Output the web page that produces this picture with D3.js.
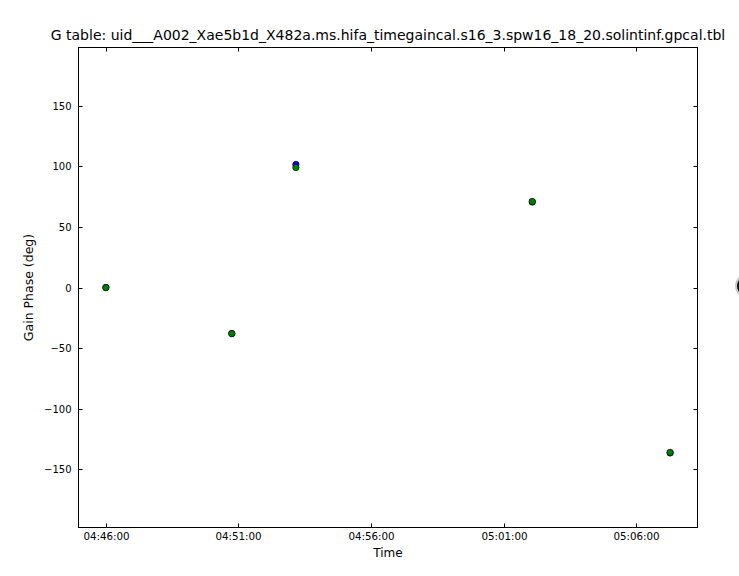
<!DOCTYPE html>
<html><head><meta charset="utf-8">
<script src="https://cdn.jsdelivr.net/npm/d3@7/dist/d3.min.js"></script>
<style>body{margin:0;background:#fff}svg{display:block;font-family:"DejaVu Sans",sans-serif}</style>
</head><body><svg id="c" width="739" height="576"></svg>
<script>
const titleText = "G table: uid___A002_Xae5b1d_X482a.ms.hifa_timegaincal.s16_3.spw16_18_20.solintinf.gpcal.tbl";
const times = ["04:46:00","04:50:45","04:53:10","05:02:05","05:07:17"];
const phaseBlue = [0, -38, 101.5, 70.5, -136.5];
const phaseGreen = [0, -38, 99, 71, -136];
const xTicks = ["04:46:00","04:51:00","04:56:00","05:01:00","05:06:00"];
const yTicks = [-150,-100,-50,0,50,100,150];
const xDomain = ["04:44:58","05:08:19"];
const yDomain = [-198, 198];

const parse = d3.timeParse("%H:%M:%S");
const svg = d3.select("#c");
const L=78.5, R=697.5, T=47.5, B=527.5;
const x = d3.scaleTime().domain(xDomain.map(parse)).range([L,R]);
const y = d3.scaleLinear().domain(yDomain).range([B,T]);

const g = svg.append("g");
xTicks.forEach(t=>{
  const px = Math.round(x(parse(t)))+0.5;
  g.append("line").attr("x1",px).attr("x2",px).attr("y1",B).attr("y2",B-4).attr("stroke","#000");
  g.append("line").attr("x1",px).attr("x2",px).attr("y1",T).attr("y2",T+4).attr("stroke","#000");
  g.append("text").attr("x",px).attr("y",B+12.5).attr("text-anchor","middle").attr("font-size",10.3).text(t);
});
yTicks.forEach(v=>{
  const py = Math.round(y(v))+0.5;
  g.append("line").attr("x1",L).attr("x2",L+4).attr("y1",py).attr("y2",py).attr("stroke","#000");
  g.append("line").attr("x1",R).attr("x2",R-4).attr("y1",py).attr("y2",py).attr("stroke","#000");
  g.append("text").attr("x",L-7).attr("y",py+3.5).attr("text-anchor","end").attr("font-size",10)
    .text(v<0?"\u2212"+Math.abs(v):String(v));
});

svg.append("rect").attr("x",L).attr("y",T).attr("width",R-L).attr("height",B-T)
  .attr("fill","none").attr("stroke","#000").attr("stroke-width",1);

svg.append("g").selectAll("circle").data(times).join("circle")
  .attr("cx",d=>x(parse(d))).attr("cy",(d,i)=>y(phaseBlue[i])).attr("r",3.2)
  .attr("fill","#0000ff").attr("stroke","#000").attr("stroke-width",0.6);
svg.append("g").selectAll("circle").data(times).join("circle")
  .attr("cx",d=>x(parse(d))).attr("cy",(d,i)=>y(phaseGreen[i])).attr("r",3.2)
  .attr("fill","#008000").attr("stroke","#000").attr("stroke-width",0.6);

svg.append("text").attr("x",(L+R)/2).attr("y",40).attr("text-anchor","middle").attr("font-size",14).text(titleText);
svg.append("text").attr("x",(L+R)/2).attr("y",557).attr("text-anchor","middle").attr("font-size",12).text("Time");
svg.append("text").attr("transform",`translate(33,${(T+B)/2}) rotate(-90)`).attr("text-anchor","middle").attr("font-size",12.5).text("Gain Phase (deg)");

svg.append("circle").attr("cx",747).attr("cy",286).attr("r",10).attr("fill","none").attr("stroke","#ccc").attr("stroke-width",4);
svg.append("circle").attr("cx",747).attr("cy",286).attr("r",9).attr("fill","none").attr("stroke","#111").attr("stroke-width",2);
</script></body></html>
